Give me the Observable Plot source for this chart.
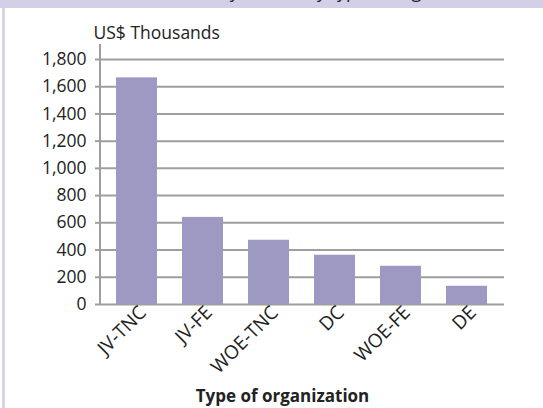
<!DOCTYPE html>
<html>
<head>
<meta charset="utf-8">
<script src="https://cdn.jsdelivr.net/npm/d3@7"></script>
<script src="https://cdn.jsdelivr.net/npm/@observablehq/plot@0.6"></script>
<style>
  html, body { margin: 0; padding: 0; background: #fff; }
  #wrap { position: relative; width: 543px; height: 408px; overflow: hidden; background: #fff; }
  #band { position: absolute; left: 0; top: 0; width: 543px; height: 8px; background: #d2cfe7; overflow: hidden; }
  #band span { position: absolute; left: 60px; top: -18px; font: 18px "Open Sans", sans-serif; color: #222; white-space: nowrap; line-height: 18px; }
  #side { position: absolute; left: 2px; top: 8px; width: 3px; height: 400px; background: #d8d5ea; }
  #chart { position: absolute; left: 0; top: 0; }
</style>
</head>
<body>
<div id="wrap">
  <div id="band"><span>Mean R&amp;D Inflows by Sector, by type of organization and size, 2010</span></div>
  <div id="side"></div>
  <div id="chart"></div>
</div>
<script>
const categories = ["JV-TNC", "JV-FE", "WOE-TNC", "DC", "WOE-FE", "DE"];
const values = [1665, 640, 472, 362, 281, 134];
const yTicks = [0, 200, 400, 600, 800, 1000, 1200, 1400, 1600, 1800];
const yLabel = "US$ Thousands";
const xLabel = "Type of organization";

const data = categories.map((c, i) => ({cat: c, value: values[i]}));
const font = "'Open Sans', sans-serif";
const gridColor = "#9e9e9e";

const plot = Plot.plot({
  width: 543,
  height: 408,
  marginLeft: 100,
  marginRight: 41,
  marginTop: 44,
  marginBottom: 104,
  style: {background: "transparent", fontFamily: font, color: "#222"},
  x: {domain: categories, paddingInner: 0.38, paddingOuter: 0.217, label: null},
  y: {domain: [0, 1910], label: null},
  marks: [
    Plot.gridY(yTicks, {stroke: gridColor, strokeOpacity: 1, strokeWidth: 2, insetRight: -2}),
    Plot.barY(data, {x: "cat", y: "value", fill: "#9e99c3"}),
    Plot.axisY(yTicks, {tickSize: 5, tickPadding: 9, stroke: gridColor, strokeWidth: 2, tickFormat: d3.format(","), fontSize: 17.5, label: null}),
    Plot.axisX({tickSize: 0, tickRotate: -45, tickPadding: 4, dx: 6, dy: 1, fontSize: 19, label: null}),
    Plot.text([yLabel], {text: d => d, frameAnchor: "top-left", textAnchor: "start", lineAnchor: "bottom", dx: -7, dy: -6, fontSize: 17.5, fill: "#222"}),
    Plot.text([xLabel], {text: d => d, frameAnchor: "bottom", lineAnchor: "bottom", dx: -19, dy: 97, fontSize: 17, fontWeight: "bold", fill: "#222"})
  ]
});

// vertical axis line drawn from the y scale
const ys = plot.scale("y");
d3.select(plot).append("line")
  .attr("x1", 100).attr("x2", 100)
  .attr("y1", ys.apply(0) + 1).attr("y2", ys.apply(ys.domain[1]))
  .attr("stroke", gridColor).attr("stroke-width", 2);

document.getElementById("chart").appendChild(plot);
</script>
</body>
</html>
